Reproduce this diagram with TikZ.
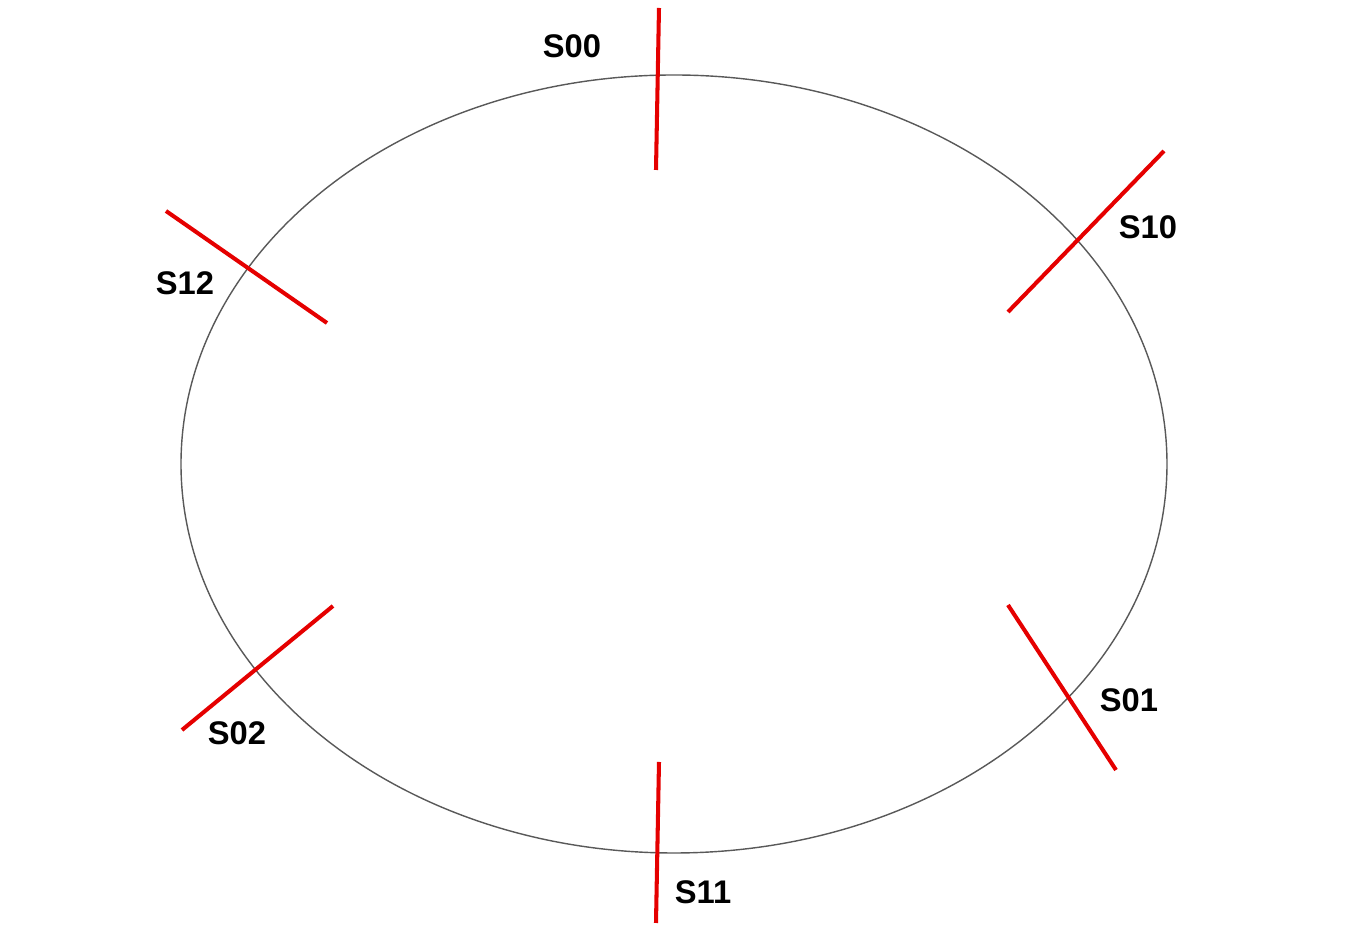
\documentclass[tikz,border=0pt]{standalone}
\usepackage{fontspec}
\setmainfont{Liberation Sans}
\usetikzlibrary{positioning}

\begin{document}
\begin{tikzpicture}[x=0.01cm,y=-0.01cm,
  seg/.style={red!90!black, line width=1.15pt},
  lbl/.style={font=\fontsize{9.3}{10}\selectfont\bfseries, inner sep=0pt}]
\useasboundingbox (0,0) rectangle (1350,934);

\draw [black!65, line width=0.4pt] (674,464) ellipse [x radius=493, y radius=389];

\begin{scope}
\coordinate (a0) at (659,8);    \coordinate (b0) at (656,170);
\coordinate (a1) at (1164,151); \coordinate (b1) at (1008,312);
\coordinate (a2) at (166,211);  \coordinate (b2) at (327,323);
\coordinate (a3) at (333,606);  \coordinate (b3) at (182,730);
\coordinate (a4) at (659,762);  \coordinate (b4) at (656,923);
\coordinate (a5) at (1008,605); \coordinate (b5) at (1116,770);
\end{scope}

\begin{scope}
\draw [seg] (a0) -- (b0);
\draw [seg] (a1) -- (b1);
\draw [seg] (a2) -- (b2);
\draw [seg] (a3) -- (b3);
\draw [seg] (a4) -- (b4);
\draw [seg] (a5) -- (b5);
\end{scope}

\node [lbl] (s00) at (572,46) {S00};
\node [lbl] (s10) at (1148,227) {S10};
\node [lbl] (s12) at (185,283) {S12};
\node [lbl] (s02) at (237,733) {S02};
\node [lbl] (s11) at (703,892) {S11};
\node [lbl] (s01) at (1129,700) {S01};
\end{tikzpicture}
\end{document}
